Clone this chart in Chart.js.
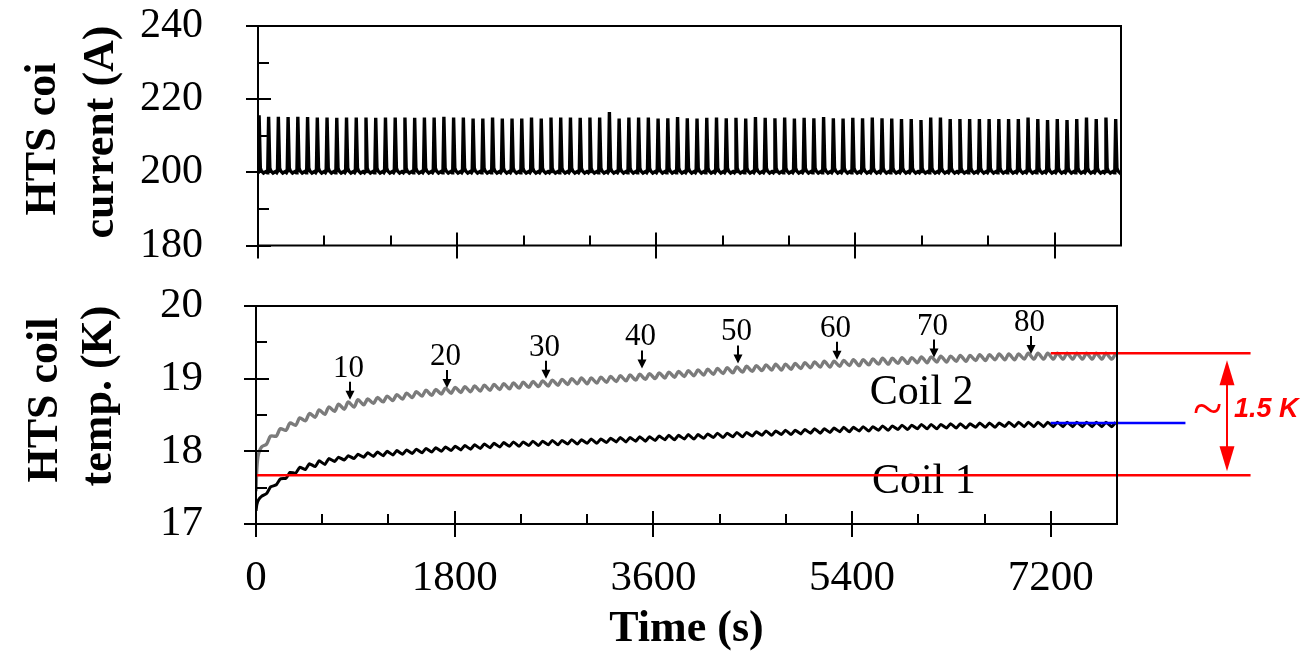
<!DOCTYPE html>
<html>
<head>
<meta charset="utf-8">
<script src="https://cdn.jsdelivr.net/npm/chart.js@4.4.0/dist/chart.umd.min.js"></script>
<style>
  html, body { margin: 0; padding: 0; background: #fff; }
  #wrap { position: relative; width: 1301px; height: 660px; }
  #currentChart { position: absolute; left: 0; top: 0; }
  #tempChart { position: absolute; left: 0; top: 270px; }
</style>
</head>
<body>
<div id="wrap">
  <canvas id="currentChart" width="1301" height="270"></canvas>
  <canvas id="tempChart" width="1301" height="390"></canvas>
</div>
<script>
// ---- axis ticks ----
const timeMajorTicks = [0, 1800, 3600, 5400, 7200];
const timeMinorTicks = [600, 1200, 2400, 3000, 4200, 4800, 6000, 6600];
const currentMajorTicks = [180, 200, 220, 240];
const currentMinorTicks = [190, 210, 230];
const tempMajorTicks = [17, 18, 19, 20];
const tempMinorTicks = [17.5, 18.5, 19.5];

// ---- current pulses (s) and their peak current (A) ----
const pulseTimes = [10,
  96, 184, 272, 360, 448, 536, 624, 712, 800, 888,
  976, 1064, 1152, 1240, 1328, 1416, 1504, 1592, 1680, 1768,
  1856, 1944, 2032, 2120, 2208, 2296, 2384, 2472, 2560, 2648,
  2736, 2824, 2912, 3000, 3088, 3176, 3264, 3352, 3440, 3528,
  3616, 3704, 3792, 3880, 3968, 4056, 4144, 4232, 4320, 4408,
  4496, 4584, 4672, 4760, 4848, 4936, 5024, 5112, 5200, 5288,
  5376, 5464, 5552, 5640, 5728, 5816, 5904, 5992, 6080, 6168,
  6256, 6344, 6432, 6520, 6608, 6696, 6784, 6872, 6960, 7048,
  7136, 7224, 7312, 7400, 7488, 7576, 7664, 7752];
const currentPeaks = [215.6,
  215.2, 215.2, 215.1, 215.2, 215.1, 215.0, 215.0, 214.9, 215.0, 215.0,
  215.0, 214.9, 215.0, 215.0, 215.0, 214.9, 215.0, 215.0, 215.2, 215.0,
  215.0, 214.7, 214.7, 215.0, 214.7, 214.7, 214.7, 215.0, 214.7, 215.0,
  215.0, 215.0, 214.9, 215.0, 215.0, 216.5, 214.7, 215.0, 215.0, 215.0,
  214.7, 214.8, 215.1, 214.8, 214.7, 214.9, 215.0, 214.8, 214.9, 214.7,
  215.1, 214.9, 214.8, 215.0, 214.7, 214.9, 214.8, 215.1, 214.8, 214.7,
  214.9, 214.8, 215.0, 214.8, 214.7, 214.6, 214.6, 214.3, 215.0, 215.0,
  214.6, 214.6, 214.6, 214.6, 214.6, 214.6, 214.6, 214.6, 215.0, 214.6,
  214.3, 214.6, 214.3, 214.6, 215.0, 214.6, 215.0, 214.6];

// ---- coil temperatures (K): start-up, then trough / crest of each cycle ----
const startTimes = [0, 8, 22, 50];
const coil2Start = [17.45, 17.78, 17.96, 18.06];
const coil1Start = [17.18, 17.27, 17.33, 17.38];
const coil2Hi = [18.21, 18.31, 18.39, 18.46, 18.52, 18.57, 18.61, 18.65, 18.68, 18.71,
  18.72, 18.74, 18.76, 18.78, 18.80, 18.82, 18.84, 18.85, 18.87, 18.88,
  18.89, 18.90, 18.91, 18.92, 18.93, 18.94, 18.95, 18.96, 18.97, 18.98,
  18.99, 19.00, 19.01, 19.01, 19.02, 19.03, 19.04, 19.05, 19.06, 19.07,
  19.08, 19.09, 19.10, 19.11, 19.12, 19.13, 19.14, 19.15, 19.16, 19.17,
  19.18, 19.19, 19.20, 19.20, 19.21, 19.22, 19.23, 19.24, 19.24, 19.25,
  19.26, 19.26, 19.27, 19.28, 19.28, 19.29, 19.29, 19.30, 19.30, 19.31,
  19.31, 19.32, 19.32, 19.33, 19.33, 19.34, 19.34, 19.34, 19.35, 19.35,
  19.35, 19.35, 19.35, 19.35, 19.35, 19.35, 19.35, 19.35];
const coil2Lo = [18.10, 18.21, 18.29, 18.36, 18.42, 18.47, 18.51, 18.55, 18.58, 18.61,
  18.64, 18.66, 18.68, 18.70, 18.72, 18.74, 18.76, 18.77, 18.79, 18.80,
  18.81, 18.82, 18.83, 18.84, 18.85, 18.86, 18.87, 18.88, 18.89, 18.90,
  18.91, 18.92, 18.93, 18.93, 18.94, 18.95, 18.96, 18.97, 18.98, 18.99,
  19.00, 19.01, 19.02, 19.03, 19.04, 19.05, 19.06, 19.07, 19.08, 19.09,
  19.10, 19.11, 19.12, 19.12, 19.13, 19.14, 19.15, 19.16, 19.16, 19.17,
  19.18, 19.18, 19.19, 19.20, 19.20, 19.21, 19.21, 19.22, 19.22, 19.23,
  19.23, 19.24, 19.24, 19.25, 19.25, 19.26, 19.26, 19.26, 19.27, 19.27,
  19.27, 19.27, 19.27, 19.27, 19.27, 19.27, 19.27, 19.27];
const coil1Hi = [17.51, 17.62, 17.71, 17.78, 17.83, 17.87, 17.90, 17.92, 17.94, 17.96,
  17.98, 17.99, 18.00, 18.01, 18.02, 18.03, 18.04, 18.05, 18.06, 18.07,
  18.08, 18.09, 18.10, 18.11, 18.12, 18.13, 18.13, 18.14, 18.14, 18.15,
  18.15, 18.16, 18.16, 18.17, 18.17, 18.18, 18.19, 18.19, 18.20, 18.20,
  18.21, 18.22, 18.22, 18.23, 18.23, 18.24, 18.25, 18.25, 18.26, 18.26,
  18.27, 18.28, 18.28, 18.29, 18.29, 18.30, 18.31, 18.31, 18.32, 18.33,
  18.33, 18.34, 18.34, 18.35, 18.35, 18.36, 18.36, 18.37, 18.37, 18.37,
  18.38, 18.38, 18.38, 18.39, 18.39, 18.39, 18.40, 18.40, 18.40, 18.40,
  18.40, 18.40, 18.40, 18.40, 18.40, 18.40, 18.40, 18.40];
const coil1Lo = [17.42, 17.54, 17.63, 17.70, 17.75, 17.79, 17.82, 17.86, 17.88, 17.90,
  17.92, 17.93, 17.94, 17.95, 17.96, 17.97, 17.98, 17.99, 18.00, 18.01,
  18.02, 18.03, 18.04, 18.05, 18.06, 18.07, 18.07, 18.08, 18.08, 18.09,
  18.09, 18.10, 18.10, 18.11, 18.11, 18.12, 18.13, 18.13, 18.14, 18.14,
  18.15, 18.16, 18.16, 18.17, 18.17, 18.18, 18.19, 18.19, 18.20, 18.20,
  18.21, 18.22, 18.22, 18.23, 18.23, 18.24, 18.25, 18.25, 18.26, 18.27,
  18.27, 18.28, 18.28, 18.29, 18.29, 18.30, 18.30, 18.31, 18.31, 18.31,
  18.32, 18.32, 18.32, 18.33, 18.33, 18.33, 18.34, 18.34, 18.34, 18.34,
  18.34, 18.34, 18.34, 18.34, 18.34, 18.34, 18.34, 18.34];

// ---- cycle-number markers on coil 2 ----
const cycleLabels = ['10', '20', '30', '40', '50', '60', '70', '80'];
const cycleMarkTimes = [852, 1729, 2630, 3497, 4364, 5265, 6142, 7018];
const cycleMarkTemps = [18.71, 18.87, 19.00, 19.14, 19.21, 19.26, 19.29, 19.34];

// ---- reference levels (K) ----
const coil1Base = 17.67;
const coil2Final = 19.35;
const coil1Final = 18.39;
const riseLabel = '1.5 K';

// build the current trace: flat baseline with a short pulse at each pulse time
const currentPoints = [{ x: 0, y: 200.1 }];
pulseTimes.forEach((t, i) => {
  currentPoints.push(
    { x: t - 8, y: 200.2 },
    { x: t, y: currentPeaks[i] },
    { x: t + 11, y: 201.2 },
    { x: t + 20, y: 200.4 },
    { x: t + 40, y: 199.8 },
    { x: t + 62, y: 200.2 },
    { x: t + 74, y: 199.9 }
  );
});

function tempPoints(start, lo, hi) {
  const pts = startTimes.map((t, i) => ({ x: t, y: start[i] }));
  pulseTimes.slice(1).forEach((t, i) => {
    pts.push({ x: t, y: lo[i] }, { x: t + 36, y: hi[i] });
  });
  return pts;
}

const SERIF = '"Liberation Serif", "Times New Roman", serif';
Chart.defaults.color = '#000';
Chart.defaults.font.family = SERIF;

// frame around the plot area plus inward/outward tick marks
const framePlugin = {
  id: 'frame',
  afterDraw(chart, args, o) {
    const { ctx, chartArea: a } = chart;
    const x = chart.scales.x, y = chart.scales.y;
    ctx.save();
    ctx.strokeStyle = '#000';
    ctx.lineWidth = 2;
    ctx.strokeRect(a.left, a.top, a.right - a.left, a.bottom - a.top);
    ctx.beginPath();
    o.xMajor.forEach(v => {
      const p = Math.round(x.getPixelForValue(v));
      ctx.moveTo(p, a.bottom + 13); ctx.lineTo(p, a.bottom - 13);
    });
    o.xMinor.forEach(v => {
      const p = Math.round(x.getPixelForValue(v));
      ctx.moveTo(p, a.bottom); ctx.lineTo(p, a.bottom - 10);
    });
    o.yMajor.forEach(v => {
      const p = Math.round(y.getPixelForValue(v));
      ctx.moveTo(a.left - 12, p); ctx.lineTo(a.left + 13, p);
    });
    o.yMinor.forEach(v => {
      const p = Math.round(y.getPixelForValue(v));
      ctx.moveTo(a.left, p); ctx.lineTo(a.left + 11, p);
    });
    ctx.stroke();
    ctx.restore();
  }
};

// rotated two-line axis titles
const sideTitlePlugin = {
  id: 'sideTitle',
  afterDraw(chart, args, o) {
    const ctx = chart.ctx;
    o.lines.forEach(l => {
      ctx.save();
      ctx.font = 'bold 44px ' + SERIF;
      ctx.fillStyle = '#000';
      ctx.textAlign = 'center';
      ctx.textBaseline = 'middle';
      ctx.translate(l.x, l.y);
      ctx.rotate(-Math.PI / 2);
      ctx.fillText(l.text, 0, 0);
      ctx.restore();
    });
  }
};

// coil names, cycle markers and the temperature-rise annotation
const tempNotesPlugin = {
  id: 'tempNotes',
  beforeDatasetsDraw(chart) {
    const { ctx } = chart;
    const x = chart.scales.x, y = chart.scales.y;
    ctx.save();
    ctx.font = '42px ' + SERIF;
    ctx.fillStyle = '#000';
    ctx.textAlign = 'center';
    ctx.textBaseline = 'alphabetic';
    ctx.fillText('Coil 2', x.getPixelForValue(6030), y.getPixelForValue(18.65));
    ctx.fillText('Coil 1', x.getPixelForValue(6050), y.getPixelForValue(17.43));
    ctx.restore();
  },
  afterDatasetsDraw(chart) {
    const { ctx } = chart;
    const x = chart.scales.x, y = chart.scales.y;
    ctx.save();
    // cycle markers
    ctx.fillStyle = '#000';
    ctx.strokeStyle = '#000';
    ctx.lineWidth = 2;
    ctx.font = '31px ' + SERIF;
    ctx.textAlign = 'center';
    ctx.textBaseline = 'alphabetic';
    cycleLabels.forEach((lab, i) => {
      const px = Math.round(x.getPixelForValue(cycleMarkTimes[i]));
      const tip = y.getPixelForValue(cycleMarkTemps[i]);
      ctx.beginPath();
      ctx.moveTo(px, tip - 18); ctx.lineTo(px, tip - 8);
      ctx.stroke();
      ctx.beginPath();
      ctx.moveTo(px - 4.5, tip - 9); ctx.lineTo(px + 4.5, tip - 9); ctx.lineTo(px, tip);
      ctx.closePath();
      ctx.fill();
      ctx.fillText(lab, px - 1.5, tip - 23);
    });
    // double arrow between the two red levels
    const ax = Math.round(x.getPixelForValue(8800));
    const yTop = y.getPixelForValue(coil2Final) + 7;
    const yBot = y.getPixelForValue(coil1Base) - 4;
    ctx.fillStyle = '#ff0000';
    ctx.strokeStyle = '#ff0000';
    ctx.lineWidth = 2;
    ctx.beginPath();
    ctx.moveTo(ax, yTop + 20); ctx.lineTo(ax, yBot - 20);
    ctx.stroke();
    ctx.beginPath();
    ctx.moveTo(ax, yTop); ctx.lineTo(ax - 7.5, yTop + 25); ctx.lineTo(ax + 7.5, yTop + 25);
    ctx.closePath(); ctx.fill();
    ctx.beginPath();
    ctx.moveTo(ax, yBot); ctx.lineTo(ax - 7.5, yBot - 25); ctx.lineTo(ax + 7.5, yBot - 25);
    ctx.closePath(); ctx.fill();
    // "~1.5 K"
    const midY = y.getPixelForValue(18.57);
    ctx.font = '54px ' + SERIF;
    ctx.textAlign = 'center';
    ctx.textBaseline = 'middle';
    ctx.fillText('~', x.getPixelForValue(8620), midY + 3);
    ctx.font = 'italic bold 27px "Liberation Sans", Arial, sans-serif';
    ctx.textAlign = 'left';
    ctx.fillText(riseLabel, x.getPixelForValue(8859), midY);
    ctx.restore();
  }
};

const tickSet = vals => scale => { scale.ticks = vals.map(v => ({ value: v })); };
const plain = v => String(v);

// ---- top panel: coil current ----
new Chart(document.getElementById('currentChart'), {
  type: 'line',
  data: {
    datasets: [{
      data: currentPoints,
      borderColor: '#000',
      borderWidth: 3.4,
      pointRadius: 0,
      tension: 0
    }]
  },
  options: {
    responsive: false,
    animation: false,
    devicePixelRatio: 1,
    layout: { padding: { left: 0, top: 26, right: 180, bottom: 24.5 } },
    plugins: {
      legend: { display: false },
      tooltip: { enabled: false },
      frame: { xMajor: timeMajorTicks, xMinor: timeMinorTicks, yMajor: currentMajorTicks, yMinor: currentMinorTicks },
      sideTitle: { lines: [
        { text: 'HTS coi', x: 44, y: 139 },
        { text: 'current (A)', x: 102, y: 132 }
      ] }
    },
    scales: {
      x: {
        type: 'linear', min: 0, max: 7800,
        afterBuildTicks: tickSet(timeMajorTicks),
        ticks: { display: false, padding: 0 },
        grid: { display: false, drawTicks: false },
        border: { display: false },
        afterFit: s => { s.height = 0; }
      },
      y: {
        type: 'linear', min: 180, max: 240,
        afterBuildTicks: tickSet(currentMajorTicks),
        ticks: { font: { size: 42, lineHeight: 1 }, color: '#000', padding: 0, callback: plain },
        grid: { display: false, drawTicks: true, tickLength: 55 },
        border: { display: false },
        afterFit: s => { s.width = 258; }
      }
    }
  },
  plugins: [framePlugin, sideTitlePlugin]
});

// ---- bottom panel: coil temperatures ----
new Chart(document.getElementById('tempChart'), {
  type: 'line',
  data: {
    datasets: [
      { data: [{ x: 7200, y: coil2Final }, { x: 9010, y: coil2Final }], borderColor: '#ff0000', borderWidth: 2.6, pointRadius: 0, clip: false },
      { data: [{ x: 7200, y: coil1Final }, { x: 8420, y: coil1Final }], borderColor: '#0000ff', borderWidth: 2.6, pointRadius: 0, clip: false },
      { data: [{ x: 0, y: coil1Base }, { x: 9010, y: coil1Base }], borderColor: '#ff0000', borderWidth: 2.6, pointRadius: 0, clip: false },
      { label: 'Coil 2', data: tempPoints(coil2Start, coil2Lo, coil2Hi), borderColor: '#7b7b7b', borderWidth: 3.4, pointRadius: 0, tension: 0.3 },
      { label: 'Coil 1', data: tempPoints(coil1Start, coil1Lo, coil1Hi), borderColor: '#000', borderWidth: 3, pointRadius: 0, tension: 0.15 }
    ]
  },
  options: {
    responsive: false,
    animation: false,
    devicePixelRatio: 1,
    layout: { padding: { left: 0, top: 36, right: 184, bottom: 0 } },
    plugins: {
      legend: { display: false },
      tooltip: { enabled: false },
      frame: { xMajor: timeMajorTicks, xMinor: timeMinorTicks, yMajor: tempMajorTicks, yMinor: tempMinorTicks },
      sideTitle: { lines: [
        { text: 'HTS coil', x: 46, y: 130 },
        { text: 'temp. (K)', x: 100, y: 126 }
      ] }
    },
    scales: {
      x: {
        type: 'linear', min: 0, max: 7800,
        afterBuildTicks: tickSet(timeMajorTicks),
        ticks: { font: { size: 43, lineHeight: 1 }, color: '#000', padding: 0, callback: plain, maxRotation: 0, autoSkip: false },
        grid: { display: false, drawTicks: true, tickLength: 33 },
        border: { display: false },
        title: { display: true, text: 'Time (s)', color: '#000', font: { size: 44, weight: 'bold', lineHeight: 1 }, padding: { top: 0, bottom: 8 } },
        afterFit: s => { s.height = 136; }
      },
      y: {
        type: 'linear', min: 17, max: 20,
        afterBuildTicks: tickSet(tempMajorTicks),
        ticks: { font: { size: 43, lineHeight: 1 }, color: '#000', padding: 0, callback: plain },
        grid: { display: false, drawTicks: true, tickLength: 53 },
        border: { display: false },
        afterFit: s => { s.width = 256; }
      }
    }
  },
  plugins: [framePlugin, sideTitlePlugin, tempNotesPlugin]
});
</script>
</body>
</html>
